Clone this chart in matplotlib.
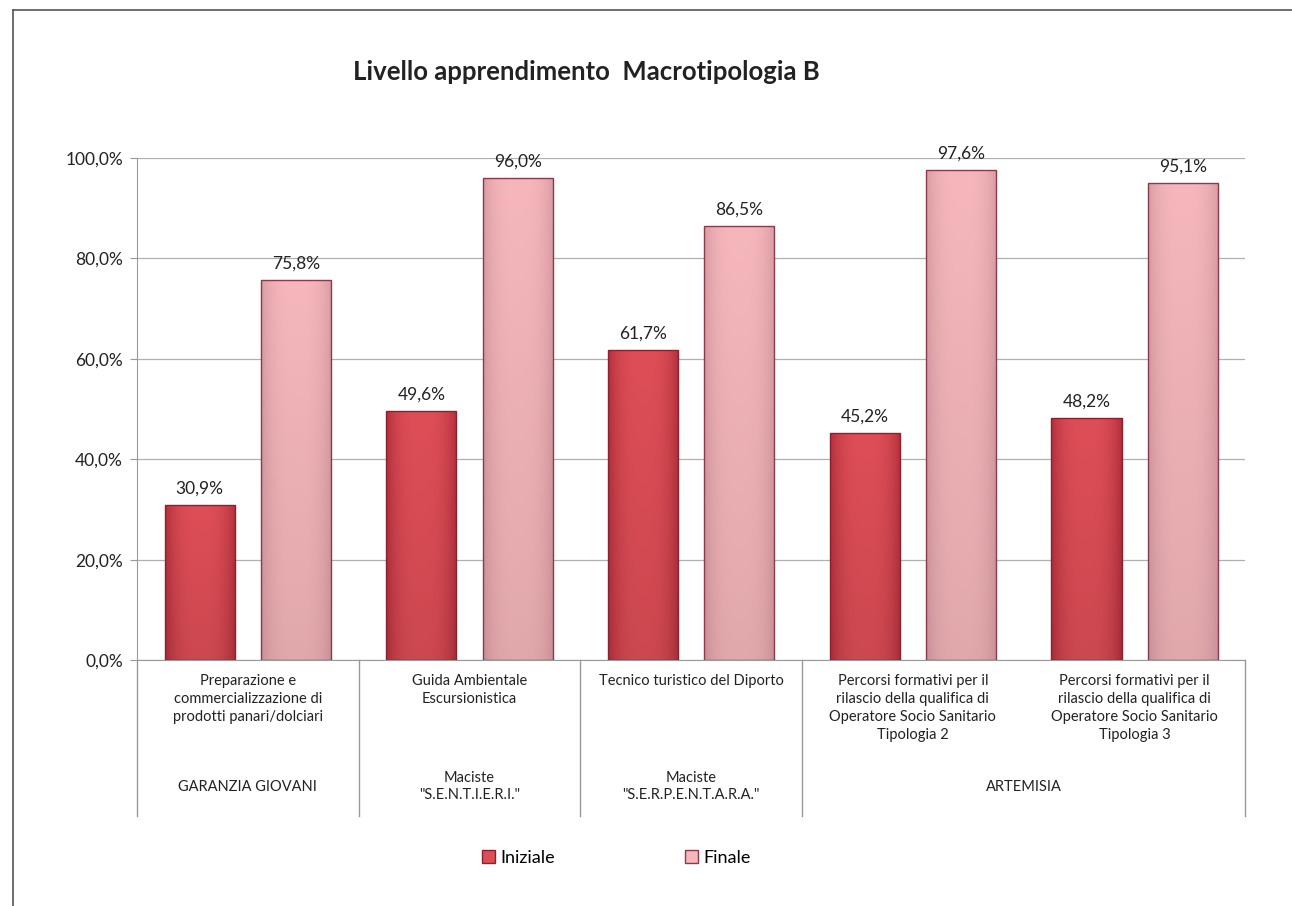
import matplotlib
matplotlib.use("Agg")
import matplotlib.pyplot as plt
import numpy as np
from matplotlib.lines import Line2D
from matplotlib.patches import Patch
from matplotlib.colors import to_rgb

plt.rcParams['font.family'] = ['Lato', 'DejaVu Sans']

title = "Livello apprendimento  Macrotipologia B"
categories = [
    "Preparazione e\ncommercializzazione di\nprodotti panari/dolciari",
    "Guida Ambientale\nEscursionistica",
    "Tecnico turistico del Diporto",
    "Percorsi formativi per il\nrilascio della qualifica di\nOperatore Socio Sanitario\nTipologia 2",
    "Percorsi formativi per il\nrilascio della qualifica di\nOperatore Socio Sanitario\nTipologia 3",
]
groups = ["GARANZIA GIOVANI", "Maciste\n\"S.E.N.T.I.E.R.I.\"", "Maciste\n\"S.E.R.P.E.N.T.A.R.A.\"", "ARTEMISIA"]
group_spans = [(0, 0), (1, 1), (2, 2), (3, 4)]
series_names = ["Iniziale", "Finale"]
iniziale = [30.9, 49.6, 61.7, 45.2, 48.2]
finale = [75.8, 96.0, 86.5, 97.6, 95.1]
yticks = [0, 20, 40, 60, 80, 100]

col_ini = ("#b3303c", "#de4e57")   # edge, center
col_fin = ("#d99ca4", "#f5b7bb")

fig = plt.figure(figsize=(12.92, 9.06), dpi=100)
ax = fig.add_axes([0.106, 0.2715, 0.858, 0.554])

x = np.arange(len(categories))
w = 0.316
off = 0.217
bars1 = ax.bar(x - off, iniziale, w, color=col_ini[1], edgecolor="#8a2030", linewidth=1.0, zorder=3)
bars2 = ax.bar(x + off, finale, w, color=col_fin[1], edgecolor="#8a3a48", linewidth=1.0, zorder=3)

def grad_fill(bars, cols):
    e = np.array(to_rgb(cols[0])); c = np.array(to_rgb(cols[1]))
    n = 64
    t = np.linspace(-1, 1, n)
    hw = np.abs(t) ** 3
    for b in bars:
        bx, by = b.get_x(), b.get_y()
        bw, bh = b.get_width(), b.get_height()
        m = 40
        v = np.linspace(0, 1, m)[:, None]  # top -> bottom
        row = c[None, :] * (1 - hw[:, None]) + e[None, :] * hw[:, None]
        img = row[None, :, :] * (1 - 0.08 * v[:, :, None])
        img = np.clip(img, 0, 1)
        im = ax.imshow(img, extent=[bx, bx + bw, by, by + bh], aspect='auto',
                       origin='upper', zorder=3.5, interpolation='bilinear')
        im.set_clip_path(b)
        b.set_facecolor("none")
        b.set_zorder(4)

grad_fill(bars1, col_ini)
grad_fill(bars2, col_fin)

for bars, vals in ((bars1, iniziale), (bars2, finale)):
    for b, v in zip(bars, vals):
        ax.annotate(f"{v:.1f}%".replace(".", ","), (b.get_x() + b.get_width() / 2, v),
                    xytext=(0, 6), textcoords="offset points", ha="center", va="bottom",
                    fontsize=12.5, color="#222222")

ax.set_xlim(-0.5, len(categories) - 0.5)
ax.set_ylim(0, 100)
ax.set_yticks(yticks)
ax.set_yticklabels([f"{t:.1f}%".replace(".", ",") for t in yticks], fontsize=12.5, color="#222222")
ax.tick_params(axis='y', length=5, color="#999999", pad=5)
ax.set_xticks([])
ax.grid(axis='y', color="#b0b0b0", linewidth=0.9, zorder=0)
ax.set_axisbelow(True)
for s in ("top", "right"):
    ax.spines[s].set_visible(False)
ax.spines["left"].set_color("#999999")
ax.spines["bottom"].set_color("#999999")

tr = ax.get_xaxis_transform()
for i, lab in enumerate(categories):
    ax.text(i, -0.028, lab, transform=tr, ha="center", va="top", fontsize=10.5,
            linespacing=1.35, color="#222222")
for (a, bnd), g in zip(group_spans, groups):
    ax.text((a + bnd) / 2, -0.252, g, transform=tr, ha="center", va="center", fontsize=10.5,
            linespacing=1.35, color="#222222")
seps = [-0.5] + [g[1] + 0.5 for g in group_spans]
for s in seps:
    ax.plot([s, s], [0, -0.31], transform=tr, color="#999999", linewidth=1.0, clip_on=False)

fig.text(0.454, 0.9205, title, ha="center", va="center", fontsize=18.5, fontweight="bold", color="#222222")

handles = [Patch(facecolor=col_ini[1], edgecolor="#8a2030"), Patch(facecolor=col_fin[1], edgecolor="#8a3a48")]
fig.legend(handles, series_names, loc="center", bbox_to_anchor=(0.477, 0.053), ncol=2, frameon=False,
           fontsize=13, handlelength=0.7, handleheight=0.7, handletextpad=0.3, columnspacing=7.2)

fig.add_artist(Line2D([13 / 1292, 13 / 1292], [0, 1 - 10 / 906], color="#555555", linewidth=1.2))
fig.add_artist(Line2D([13 / 1292, 1], [1 - 10 / 906, 1 - 10 / 906], color="#555555", linewidth=1.2))

fig.savefig("out.png", dpi=100)
